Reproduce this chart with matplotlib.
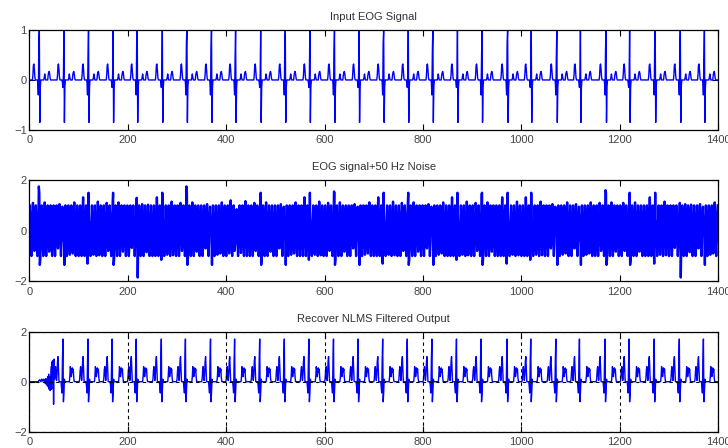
import numpy as np
import matplotlib
matplotlib.use("Agg")
import matplotlib.pyplot as plt

plt.rcParams['font.family'] = ['Liberation Sans', 'DejaVu Sans']

# ---- data ----
n_samples = 1400

# R-peak sample positions of the input EOG signal
r_peaks = [20, 70, 120, 170, 219, 270, 320, 370, 419, 470, 520, 570, 620, 670,
           720, 770, 820, 870, 920, 972, 1020, 1072, 1120, 1172, 1220, 1272, 1323, 1372]
# value just before each R peak (thick beats have a big pre-R sample)
pre_r = [0.75, 0.1, 0.45, 0.1, 0.8, 0.05, 0.75, 0.6, 0.45, 0.1, 0.7, 0.1, 0.55, 0.1,
         0.75, 0.05, 0.6, 0.1, 0.45, 0.75, 0.1, 0.45, 0.1, 0.6, 0.05, 0.75, 0.6, 0.45]

# one input beat, offsets relative to the R peak
beat_offsets = [-13, -12, -11, -10, -9, -3, -2, 0, 1, 2, 10, 11, 12, 18, 19, 20, 21, 22]
beat_values = [0.1, 0.3, 0.32, 0.2, 0.05, -0.05, -0.15, 1.0, -0.85, -0.15,
               0.05, 0.12, 0.05, 0.1, 0.15, 0.17, 0.12, 0.03]

# 50 Hz hum, one cycle in samples
hum_cycle = [0.5, 1.0, 0.5, -0.5, -1.0, -0.5]

# recovered output: beat positions and shape
rec_peaks = [68, 119, 168, 217, 268, 317, 368, 417, 468, 518, 568, 618, 668, 718,
             768, 818, 868, 918, 971, 1019, 1070, 1118, 1170, 1219, 1270, 1321, 1370]
rec_offsets = [-17, -16, -15, -14, -13, -12, -11, -10, -9, -3, -2, -1, 0, 1, 2, 3,
               14, 15, 16, 17, 18, 19, 20, 21, 22]
rec_values = [0.1, 0.45, 0.6, 0.3, 0.05, 0.3, 0.8, 1.0, 0.5, -0.2, -0.45, 0.85, 1.7,
              -0.8, -0.45, 0.1, 0.2, 0.6, 0.45, 0.2, 0.35, 0.55, 0.4, 0.5, 0.15]
# adaptation transient at the start of the filtered output
start_idx = list(range(19, 51))
start_vals = [0.05, 0.05, 0.08, 0.05, 0.0, 0.05, 0.1, 0.05, 0.02, 0.06, 0.1, 0.05,
              -0.05, 0.05, 0.12, -0.1, 0.1, -0.15, 0.2, -0.2, 0.3, -0.3, 0.2, -0.35,
              0.1, 0.6, -0.3, 0.8, 0.2, 0.85, -0.9, 0.9]

x_ticks = [0, 200, 400, 600, 800, 1000, 1200, 1400]
titles = ["Input EOG Signal", "EOG signal+50 Hz Noise", "Recover NLMS Filtered Output"]

# ---- build the series ----
eog = np.zeros(n_samples)
for k, r in enumerate(r_peaks):
    for off, v in zip(beat_offsets, beat_values):
        if 0 <= r + off < n_samples:
            eog[r + off] = v
    eog[r - 1] = pre_r[k]
    if pre_r[k] > 0.3:
        eog[r - 2] = -0.3

hum = np.resize(hum_cycle, n_samples)
noisy = eog + hum

recovered = np.zeros(n_samples)
recovered[start_idx] = start_vals
for r in rec_peaks:
    for off, v in zip(rec_offsets, rec_values):
        if 0 <= r + off < n_samples:
            recovered[r + off] = v

t = np.arange(n_samples)

# ---- plot ----
fig = plt.figure(figsize=(7.28, 4.48), dpi=100)
positions = [[0.0405, 0.710, 0.946, 0.223],
             [0.0405, 0.372, 0.946, 0.226],
             [0.0405, 0.036, 0.946, 0.224]]
series = [eog, noisy, recovered]
widths = [1.0, 1.7, 1.0]
ylims = [(-1, 1), (-2, 2), (-2, 2)]
yticks = [[-1, 0, 1], [-2, 0, 2], [-2, 0, 2]]

for i in range(3):
    ax = fig.add_axes(positions[i])
    ax.plot(t, series[i], color="#0000ff", linewidth=widths[i])
    ax.set_xlim(0, 1400)
    ax.set_ylim(*ylims[i])
    ax.set_xticks(x_ticks)
    ax.set_yticks(yticks[i])
    ax.tick_params(direction="in", length=4, width=0.8, top=True, right=True,
                   labelsize=8, labelcolor="#444444")
    ax.tick_params(axis="x", pad=4)
    ax.tick_params(axis="y", pad=2)
    for s in ax.spines.values():
        s.set_linewidth(0.9)
    ax.set_title(titles[i], fontsize=8, color="#333333", pad=7)
    if i == 2:
        ax.set_axisbelow(False)
        ax.grid(True, color="black", linestyle=(0, (3, 3)), linewidth=0.8)

fig.savefig("out.png", dpi=100)
